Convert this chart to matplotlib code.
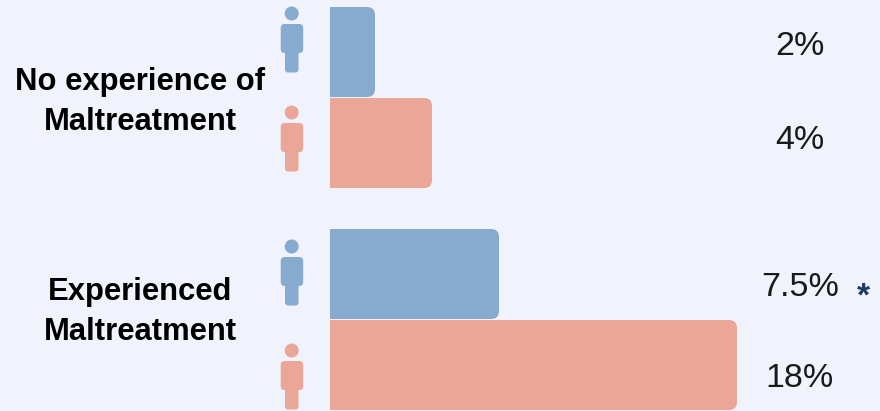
import matplotlib
matplotlib.use('Agg')
import matplotlib.pyplot as plt
from matplotlib.patches import FancyBboxPatch

# bar lengths (they are not proportional to the labels)
groups = ['No experience of\nMaltreatment', 'Experienced\nMaltreatment']
bar_values = [45, 102, 169, 407]
bar_labels = ['2%', '4%', '7.5%', '18%']
bar_sexes = ['m', 'f', 'm', 'f']

# layout in pixels
bar_tops = [7, 98, 229, 320]
bar_h = 90
person_tops = [6.5, 105.5, 239.5, 343.5]
label_y = [43, 137, 284, 375]
label_x = [800, 800, 800, 800]
group_y = [102, 312]

colors = {'m': '#86abcf', 'f': '#eaa696'}
bg = '#f0f3fb'

fig = plt.figure(figsize=(8.8, 4.11), dpi=100, facecolor=bg)
ax = fig.add_axes([0, 0, 1, 1])
ax.set_xlim(0, 880)
ax.set_ylim(411, 0)
ax.axis('off')


def person(a, top, color):
    # little figure: head, torso, legs
    cx = 291.7
    a.add_patch(plt.Circle((cx, top + 7), 7, color=color, lw=0))
    a.add_patch(FancyBboxPatch((cx - 11, top + 17.5), 22.5, 29, boxstyle='round,pad=0,rounding_size=4', fc=color, ec='none'))
    a.add_patch(FancyBboxPatch((cx - 6.7, top + 38), 13.5, 28, boxstyle='round,pad=0,rounding_size=3', fc=color, ec='none'))


for v, s, t, pt in zip(bar_values, bar_sexes, bar_tops, person_tops):
    ax.add_patch(FancyBboxPatch((330, t), v, bar_h, boxstyle='round,pad=0,rounding_size=8', fc=colors[s], ec='none'))
    ax.add_patch(plt.Rectangle((330, t), 10, bar_h, fc=colors[s], ec='none'))
    person(ax, pt, colors[s])

for x, y, lab in zip(label_x, label_y, bar_labels):
    ax.text(x, y, lab, ha='center', va='center_baseline', fontsize=24.5, color='#1a1a1a', family='Liberation Sans')

for g, y in zip(groups, group_y):
    ax.text(140, y, g, ha='center', va='center', fontsize=22.3, fontweight='bold', color='black', linespacing=1.42, family='Liberation Sans')
ax.text(863, 297, '*', ha='center', va='center', fontsize=24, fontweight='bold', color='#1f3864', family='Liberation Sans')

fig.savefig('out.png', dpi=100, facecolor=bg)
